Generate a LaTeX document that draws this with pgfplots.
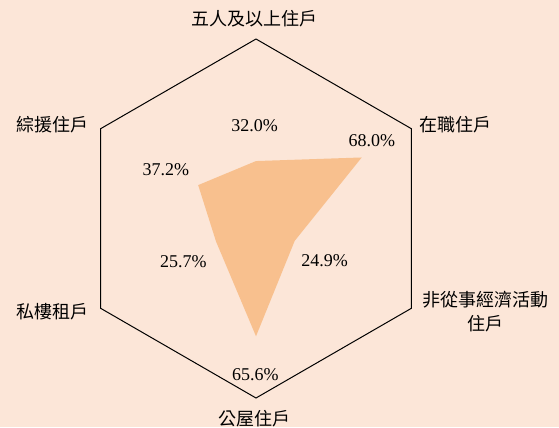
\documentclass[border=0pt]{standalone}
\usepackage{fontspec}
\setmainfont{Liberation Serif}
\newfontfamily\cjk{Noto Sans CJK TC}
\usepackage{pgfplots}
\pgfplotsset{compat=1.18}
\definecolor{bg}{HTML}{FCE6D8}
\definecolor{area}{HTML}{F8C08E}
\tikzset{lab/.style={font=\fontsize{13.5}{18.4}\selectfont, inner sep=0pt}}

\begin{document}
\begin{tikzpicture}
\begin{axis}[
    x=134.625pt, y=134.625pt,
    xmin=-1.4262, xmax=1.6880,
    ymin=-1.1616, ymax=1.2173,
    hide axis,
    clip=false,
]
\fill[bg] (rel axis cs:0,0) rectangle (rel axis cs:1,1);
% share of each group, clockwise from the top
\addplot[data cs=polar, draw=none, fill=area] coordinates {
    (90,0.320) (30,0.680) (-30,0.249) (-90,0.656) (-150,0.257) (150,0.372) (90,0.320)
};
% outer hexagon = 100%
\addplot[data cs=polar, black, line width=0.75pt] coordinates {
    (90,1) (30,1) (-30,1) (-90,1) (-150,1) (150,1) (90,1)
};
% value labels
\node[lab] at (axis cs:-0.008,0.515) {32.0\%};
\node[lab] at (axis cs:0.646,0.432) {68.0\%};
\node[lab] at (axis cs:0.382,-0.237) {24.9\%};
\node[lab] at (axis cs:-0.004,-0.868) {65.6\%};
\node[lab] at (axis cs:-0.405,-0.241) {25.7\%};
\node[lab] at (axis cs:-0.502,0.274) {37.2\%};
% category labels
\node[lab] at (axis cs:-0.008,1.111) {\cjk 五人及以上住戶};
\node[lab] at (axis cs:1.114,0.521) {\cjk 在職住戶};
\node[lab, align=center] at (axis cs:1.281,-0.518) {\cjk 非從事經濟活動\\\cjk 住戶};
\node[lab] at (axis cs:-0.007,-1.113) {\cjk 公屋住戶};
\node[lab] at (axis cs:-1.134,0.521) {\cjk 綜援住戶};
\node[lab] at (axis cs:-1.134,-0.521) {\cjk 私樓租戶};
\end{axis}
\end{tikzpicture}
\end{document}
